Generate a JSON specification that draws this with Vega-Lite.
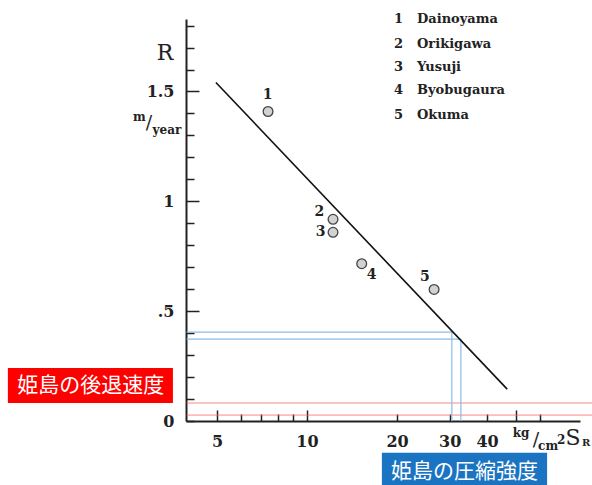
{
  "$schema": "https://vega.github.io/schema/vega-lite/v6.json",
  "width": 394,
  "height": 402,
  "autosize": {"type": "none"},
  "padding": {"left": 186, "top": 19, "right": 12, "bottom": 64},
  "background": "white",
  "config": {"view": {"stroke": null}, "axis": {"grid": false}},
  "datasets": {
    "red": [
      {"x": 3.96, "x2": 89.8, "y": 0.082},
      {"x": 3.96, "x2": 89.8, "y": 0.027}
    ],
    "blue": [
      {"x": 3.96, "x2": 30.5, "y": 0.405, "y2": 0.405},
      {"x": 3.96, "x2": 32.7, "y": 0.373, "y2": 0.373},
      {"x": 30.5, "x2": 30.5, "y": 0.405, "y2": 0},
      {"x": 32.7, "x2": 32.7, "y": 0.373, "y2": 0}
    ],
    "fit": [
      {"x": 4.96, "y": 1.541},
      {"x": 46.7, "y": 0.145}
    ],
    "points": [
      {"site": "Dainoyama", "x": 7.41, "y": 1.409},
      {"site": "Orikigawa", "x": 12.22, "y": 0.918},
      {"site": "Yusuji", "x": 12.22, "y": 0.859},
      {"site": "Byobugaura", "x": 15.24, "y": 0.716},
      {"site": "Okuma", "x": 26.6, "y": 0.599}
    ],
    "texts": [
      {"g": "pt", "label": "1", "x": 7.39, "y": 1.482},
      {"g": "pt", "label": "2", "x": 11.0, "y": 0.951},
      {"g": "pt", "label": "3", "x": 11.1, "y": 0.86},
      {"g": "pt", "label": "4", "x": 16.46, "y": 0.664},
      {"g": "pt", "label": "5", "x": 24.8, "y": 0.656},
      {"g": "leg", "label": "1", "x": 19.54, "y": 1.83},
      {"g": "leg", "label": "2", "x": 19.54, "y": 1.717},
      {"g": "leg", "label": "3", "x": 19.54, "y": 1.61},
      {"g": "leg", "label": "4", "x": 19.54, "y": 1.505},
      {"g": "leg", "label": "5", "x": 19.54, "y": 1.391},
      {"g": "leg", "label": "Dainoyama", "x": 23.33, "y": 1.83},
      {"g": "leg", "label": "Orikigawa", "x": 23.33, "y": 1.717},
      {"g": "leg", "label": "Yusuji", "x": 23.33, "y": 1.61},
      {"g": "leg", "label": "Byobugaura", "x": 23.33, "y": 1.505},
      {"g": "leg", "label": "Okuma", "x": 23.33, "y": 1.391},
      {"g": "big", "label": "R", "x": 3.35, "y": 1.677},
      {"g": "big", "label": "S", "x": 77.6, "y": -0.077},
      {"g": "unit", "label": "m", "x": 2.75, "y": 1.382},
      {"g": "unit", "label": "year", "x": 3.402, "y": 1.323},
      {"g": "unit", "label": "kg", "x": 52.0, "y": -0.055},
      {"g": "unit", "label": "cm", "x": 64.0, "y": -0.114},
      {"g": "unit", "label": "2", "x": 70.7, "y": -0.086},
      {"g": "slash", "label": "/", "x": 2.961, "y": 1.355},
      {"g": "slash", "label": "/", "x": 58.3, "y": -0.086},
      {"g": "sub", "label": "R", "x": 85.8, "y": -0.1}
    ],
    "boxes": [
      {"box": "retreat", "x": 1.0, "x2": 3.563, "y": 0.241, "y2": 0.082, "tx": 1.894, "ty": 0.159, "label": "姫島の後退速度"},
      {"box": "strength", "x": 17.8, "x2": 63.5, "y": -0.145, "y2": -0.3, "tx": 33.6, "ty": -0.232, "label": "姫島の圧縮強度"}
    ]
  },
  "encoding": {
    "x": {
      "field": "x",
      "type": "quantitative",
      "scale": {"type": "log", "domain": [3.94, 81.8], "nice": false, "zero": false},
      "axis": {
        "title": null,
        "values": [5, 6, 7, 8, 9, 10, 20, 30, 40, 50, 60],
        "labelExpr": "(datum.value==5||datum.value==10||datum.value==20||datum.value==30||datum.value==40) ? ''+datum.value : ''",
        "labelFont": "DejaVu Serif",
        "labelFontWeight": "bold",
        "labelFontSize": 16,
        "labelColor": "#222",
        "labelBaseline": "top",
        "labelFlush": false,
        "labelOverlap": false,
        "domainColor": "#222",
        "domainWidth": 2,
        "tickColor": "#222",
        "tickWidth": 1.5,
        "tickSize": {"condition": {"test": "datum.value==5||datum.value==10||datum.value==50", "value": -11}, "value": -7},
        "labelPadding": {"condition": {"test": "datum.value==5||datum.value==10||datum.value==50", "value": 23}, "value": 19}
      }
    },
    "y": {
      "field": "y",
      "type": "quantitative",
      "scale": {"domain": [0, 1.83], "nice": false, "zero": false},
      "axis": {
        "title": null,
        "values": [0, 0.1, 0.2, 0.3, 0.4, 0.5, 0.6, 0.7, 0.8, 0.9, 1, 1.1, 1.2, 1.3, 1.4, 1.5, 1.6, 1.7, 1.8],
        "labelExpr": "datum.value==0 ? '0' : datum.value==0.5 ? '.5' : datum.value==1 ? '1' : datum.value==1.5 ? '1.5' : ''",
        "labelFont": "DejaVu Serif",
        "labelFontWeight": "bold",
        "labelFontSize": 16,
        "labelColor": "#222",
        "labelBaseline": "middle",
        "labelFlush": false,
        "labelOverlap": false,
        "domainColor": "#222",
        "domainWidth": 2,
        "tickColor": "#222",
        "tickWidth": 1.5,
        "tickSize": {"condition": {"test": "datum.value==0.5||datum.value==1||datum.value==1.5", "value": -13}, "value": -8},
        "labelPadding": {"condition": {"test": "datum.value==0.5||datum.value==1||datum.value==1.5", "value": 25}, "value": 20}
      }
    }
  },
  "layer": [
    {
      "data": {"name": "red"},
      "mark": {"type": "rule", "color": "#f26a6a", "strokeWidth": 0.8},
      "encoding": {"x2": {"field": "x2"}}
    },
    {
      "data": {"name": "blue"},
      "mark": {"type": "rule", "color": "#8cbbe8", "strokeWidth": 1.2},
      "encoding": {"x2": {"field": "x2"}, "y2": {"field": "y2"}}
    },
    {
      "data": {"name": "fit"},
      "mark": {"type": "line", "color": "#111", "strokeWidth": 1.6},
      "encoding": {}
    },
    {
      "data": {"name": "points"},
      "mark": {"type": "point", "shape": "circle", "filled": true, "fill": "#d2d2d2", "stroke": "#444", "strokeWidth": 1.3, "size": 95, "opacity": 1},
      "encoding": {}
    },
    {
      "data": {"name": "texts"},
      "transform": [{"filter": "datum.g == 'pt'"}],
      "mark": {"type": "text", "font": "DejaVu Serif", "fontWeight": "bold", "fontSize": 14, "color": "#222", "align": "center", "baseline": "middle"},
      "encoding": {"text": {"field": "label"}}
    },
    {
      "data": {"name": "texts"},
      "transform": [{"filter": "datum.g == 'leg'"}],
      "mark": {"type": "text", "font": "DejaVu Serif", "fontWeight": "bold", "fontSize": 13, "color": "#222", "align": "left", "baseline": "middle"},
      "encoding": {"text": {"field": "label"}}
    },
    {
      "data": {"name": "texts"},
      "transform": [{"filter": "datum.g == 'big'"}],
      "mark": {"type": "text", "font": "DejaVu Serif", "fontSize": 22, "color": "#222", "align": "center", "baseline": "middle"},
      "encoding": {"text": {"field": "label"}}
    },
    {
      "data": {"name": "texts"},
      "transform": [{"filter": "datum.g == 'unit'"}],
      "mark": {"type": "text", "font": "DejaVu Serif", "fontWeight": "bold", "fontSize": 12, "color": "#222", "align": "center", "baseline": "middle"},
      "encoding": {"text": {"field": "label"}}
    },
    {
      "data": {"name": "texts"},
      "transform": [{"filter": "datum.g == 'slash'"}],
      "mark": {"type": "text", "font": "DejaVu Serif", "fontSize": 19, "color": "#222", "align": "center", "baseline": "middle"},
      "encoding": {"text": {"field": "label"}}
    },
    {
      "data": {"name": "texts"},
      "transform": [{"filter": "datum.g == 'sub'"}],
      "mark": {"type": "text", "font": "DejaVu Serif", "fontWeight": "bold", "fontSize": 10, "color": "#222", "align": "center", "baseline": "middle"},
      "encoding": {"text": {"field": "label"}}
    },
    {
      "data": {"name": "boxes"},
      "mark": {"type": "rect"},
      "encoding": {
        "x2": {"field": "x2"},
        "y2": {"field": "y2"},
        "color": {"field": "box", "type": "nominal", "scale": {"domain": ["retreat", "strength"], "range": ["#ff0000", "#1b74c1"]}, "legend": null}
      }
    },
    {
      "data": {"name": "boxes"},
      "mark": {"type": "text", "font": "Noto Sans CJK JP", "fontSize": 21, "color": "white", "align": "center", "baseline": "middle"},
      "encoding": {
        "x": {"field": "tx", "type": "quantitative"},
        "y": {"field": "ty", "type": "quantitative"},
        "text": {"field": "label"}
      }
    }
  ]
}
